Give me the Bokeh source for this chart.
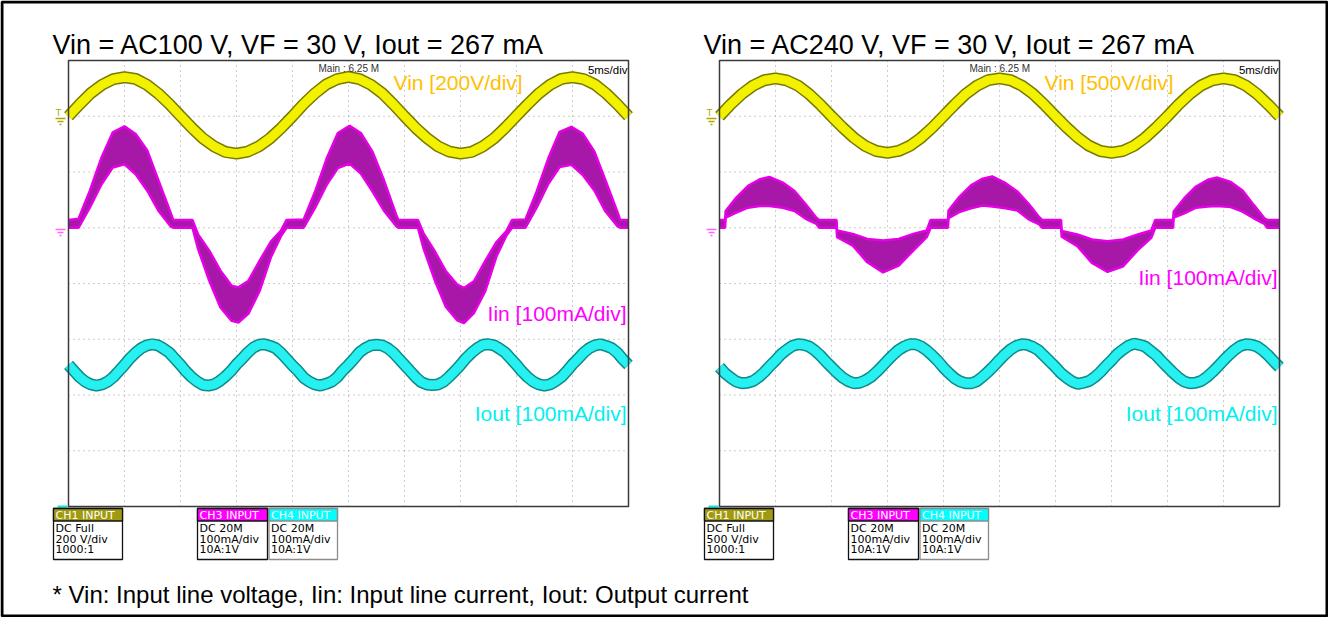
from bokeh.plotting import figure
from bokeh.models import Range1d
from bokeh.embed import file_html
from bokeh.resources import INLINE
from bokeh.core.properties import value

# ---------------- data ----------------
PANEL_TITLES = ["Vin = AC100 V, VF = 30 V, Iout = 267 mA",
                "Vin = AC240 V, VF = 30 V, Iout = 267 mA"]
FOOTNOTE = "* Vin: Input line voltage, Iin: Input line current, Iout: Output current"
VIN_LABELS = ["Vin [200V/div]", "Vin [500V/div]"]
IIN_LABEL = "Iin [100mA/div]"
IOUT_LABEL = "Iout [100mA/div]"
VIN_V_PER_DIV = [200, 500]
I_MA_PER_DIV = 100
TIME_PER_DIV_MS = 5

# Vin samples every 1 ms (volts)
VIN_T = list(range(51))
VIN_100 = [0, 43, 83, 113, 133, 140, 134, 113, 82, 44,
           1, -41, -79, -108, -128, -134, -127, -108, -79, -42,
           0, 44, 82, 114, 133, 141, 133, 113, 83, 43,
           0, -42, -78, -108, -127, -134, -128, -108, -79, -41,
           1, 43, 82, 113, 134, 140, 133, 114, 82, 43,
           0]
VIN_240 = [0, 106, 200, 275, 323, 340, 322, 275, 199, 105,
           0, -101, -193, -266, -312, -328, -311, -265, -193, -102,
           1, 105, 201, 275, 324, 340, 323, 274, 200, 105,
           0, -101, -192, -265, -312, -327, -312, -266, -193, -101,
           0, 106, 200, 276, 323, 340, 323, 275, 200, 104,
           0]

# Iout samples every 0.5 ms (mA)
IOUT_T = [i * 0.5 for i in range(101)]
IOUT_100 = [254, 243, 232, 224, 219, 217, 219, 224, 232, 243, 254, 266, 276, 284, 289, 291, 289, 283, 276, 265,
            254, 242, 232, 224, 218, 217, 219, 225, 233, 243, 255, 265, 276, 285, 290, 291, 288, 284, 275, 264,
            253, 243, 231, 224, 219, 217, 220, 224, 232, 244, 254, 265, 277, 284, 289, 290, 289, 284, 276, 265,
            254, 243, 232, 223, 219, 218, 219, 224, 233, 243, 254, 266, 276, 284, 290, 291, 289, 283, 276, 265,
            254, 242, 232, 224, 219, 217, 219, 225, 232, 243, 255, 265, 276, 284, 289, 291, 288, 284, 276, 264,
            254]
IOUT_240 = [250, 239, 231, 224, 221, 222, 225, 232, 241, 252, 262, 273, 281, 288, 291, 290, 287, 280, 271, 260,
            250, 240, 231, 225, 221, 222, 226, 232, 241, 251, 262, 272, 281, 287, 291, 291, 287, 280, 271, 261,
            249, 239, 230, 224, 221, 221, 225, 233, 242, 252, 263, 273, 282, 288, 291, 290, 286, 280, 270, 260,
            250, 239, 231, 224, 220, 222, 225, 232, 241, 252, 262, 273, 281, 288, 292, 290, 287, 279, 271, 260,
            250, 240, 231, 224, 221, 222, 225, 232, 241, 251, 262, 272, 281, 288, 291, 290, 287, 280, 271, 260,
            250]

# Iin envelope (upper / lower edge of the switching band), mA, at read-off times (ms)
IIN_T_100 = [0, 0.9, 1.9, 2.95, 3.95, 5.0, 6.0, 7.05, 8.05, 9.15, 9.35,
             11.07, 11.57, 12.57, 13.57, 14.57, 15.17, 16.07, 17.07, 18.07, 18.97, 19.47,
             21.0, 22.0, 23.05, 24.05, 25.1, 26.1, 27.15, 28.15, 29.25, 29.45,
             31.2, 31.7, 32.7, 33.7, 34.7, 35.3, 36.2, 37.2, 38.2, 39.1, 39.6,
             40.8, 41.8, 42.85, 43.85, 44.9, 45.9, 46.95, 47.95, 49.05, 49.25, 50]
IIN_UP_100 = [14, 16, 66, 126, 171, 182, 168, 138, 84, 25, 14,
              14, -12, -41, -77, -104, -107, -95, -59, -25, -5, 14,
              15, 64, 124, 170, 183, 170, 136, 86, 24, 14,
              14, -10, -42, -78, -102, -108, -96, -60, -26, -6, 14,
              15, 65, 125, 172, 181, 169, 137, 85, 26, 14, 14]
IIN_LO_100 = [0, 0, 36, 78, 108, 114, 96, 66, 30, 2, 0,
              0, -38, -95, -143, -167, -170, -154, -113, -53, -15, 0,
              0, 35, 77, 107, 115, 97, 65, 31, 3, 0,
              0, -37, -94, -142, -166, -171, -153, -114, -52, -14, 0,
              0, 36, 79, 109, 113, 95, 67, 29, 2, 0, 0]

IIN_T_240 = [0, 0.5, 0.55, 1.5, 2.55, 3.6, 4.45, 5.65, 6.7, 7.7, 8.65, 8.9,
             10.45, 10.5, 11.9, 13.2, 14.6, 16.0, 17.3, 18.5, 18.85,
             20.4, 20.45, 21.4, 22.45, 23.5, 24.35, 25.55, 26.6, 27.6, 28.55, 28.8,
             30.5, 30.55, 31.95, 33.25, 34.65, 36.05, 37.35, 38.55, 38.9,
             40.5, 40.55, 41.5, 42.55, 43.6, 44.45, 45.65, 46.7, 47.7, 48.65, 48.9, 50]
IIN_UP_240 = [14, 14, 30, 54, 75, 87, 91, 81, 66, 42, 18, 14,
              14, -5, -11, -20, -23, -20, -11, -5, 14,
              14, 31, 55, 76, 88, 92, 80, 65, 43, 19, 14,
              14, -6, -12, -21, -24, -21, -12, -5, 14,
              14, 29, 53, 74, 86, 90, 82, 67, 41, 17, 14, 14]
IIN_LO_240 = [0, 0, 18, 27, 36, 39, 39, 36, 30, 16, 7, 0,
              0, -17, -32, -62, -80, -68, -41, -17, 0,
              0, 17, 28, 35, 40, 38, 35, 31, 15, 6, 0,
              0, -16, -33, -63, -79, -69, -40, -18, 0,
              0, 18, 26, 36, 38, 39, 37, 29, 17, 7, 0, 0]

CH_NAMES = ["CH1 INPUT", "CH3 INPUT", "CH4 INPUT"]
CH_LINES = [
    [["DC Full", "200 V/div", "1000:1"], ["DC 20M", "100mA/div", "10A:1V"], ["DC 20M", "100mA/div", "10A:1V"]],
    [["DC Full", "500 V/div", "1000:1"], ["DC 20M", "100mA/div", "10A:1V"], ["DC 20M", "100mA/div", "10A:1V"]],
]

# ---------------- layout / style ----------------
W, H = 1328, 617
OFF = 0                      # canvas origin in reference pixels
PANEL_X0 = [68, 719]         # left edge of each scope screen
SCR_TOP, SCR_BOT, SCR_W = 60, 506, 560
N_DIV_X, N_DIV_Y = 10, 8
T_SPAN = N_DIV_X * TIME_PER_DIV_MS

FONT = value("Liberation Sans")
SCOPE_FONT = value("DejaVu Sans")


def time_range(x0):
    px_per_ms = SCR_W / T_SPAN
    start = -(x0 - OFF) / px_per_ms
    return Range1d(start, start + W / px_per_ms)


def level_range(ground_div, per_div):
    px_per_div = (SCR_BOT - SCR_TOP) / N_DIV_Y
    bdiv = -(H - (SCR_BOT - OFF)) / px_per_div
    tdiv = bdiv + H / px_per_div
    return Range1d((bdiv - ground_div) * per_div, (tdiv - ground_div) * per_div)


p = figure(width=W, height=H, x_range=Range1d(OFF, OFF + W), y_range=Range1d(OFF + H, OFF),
           output_backend="svg", toolbar_location=None, min_border=0,
           x_axis_location=None, y_axis_location=None)
p.grid.visible = False
p.outline_line_color = None
p.background_fill_color = "white"
p.border_fill_color = "white"

p.extra_x_ranges = {"t0": time_range(PANEL_X0[0]), "t1": time_range(PANEL_X0[1])}
p.extra_y_ranges = {
    "div": level_range(0, 1),
    "vin0": level_range(7, VIN_V_PER_DIV[0]),
    "vin1": level_range(7, VIN_V_PER_DIV[1]),
    "iin": level_range(5, I_MA_PER_DIV),
    "iout": level_range(0, I_MA_PER_DIV),
}

panels = [
    dict(vin=VIN_100, iout=IOUT_100, it=IIN_T_100, iu=IIN_UP_100, il=IIN_LO_100),
    dict(vin=VIN_240, iout=IOUT_240, it=IIN_T_240, iu=IIN_UP_240, il=IIN_LO_240),
]

GRID_T = [k * TIME_PER_DIV_MS for k in range(1, N_DIV_X)]
GRID_Y = list(range(1, N_DIV_Y))

for i, d in enumerate(panels):
    xr = "t%d" % i
    x0 = PANEL_X0[i]
    # graticule
    p.segment(x0=GRID_T, y0=[0] * len(GRID_T), x1=GRID_T, y1=[N_DIV_Y] * len(GRID_T),
              x_range_name=xr, y_range_name="div", line_color="#9a9a9a", line_width=1, line_dash="1 4")
    p.segment(x0=[0] * len(GRID_Y), y0=GRID_Y, x1=[T_SPAN] * len(GRID_Y), y1=GRID_Y,
              x_range_name=xr, y_range_name="div", line_color="#9a9a9a", line_width=1, line_dash="1 4")
    # Vin trace
    p.line(VIN_T, d["vin"], x_range_name=xr, y_range_name="vin%d" % i, line_color="#7a7a00", line_width=12)
    p.line(VIN_T, d["vin"], x_range_name=xr, y_range_name="vin%d" % i, line_color="#f2f200", line_width=9)
    # Iin band
    p.varea(x=d["it"], y1=d["il"], y2=d["iu"], x_range_name=xr, y_range_name="iin", fill_color="#a818a8")
    p.line(d["it"], d["iu"], x_range_name=xr, y_range_name="iin", line_color="#e600e6", line_width=2.5)
    p.line(d["it"], d["il"], x_range_name=xr, y_range_name="iin", line_color="#e600e6", line_width=2.5)
    # Iout trace
    p.line(IOUT_T, d["iout"], x_range_name=xr, y_range_name="iout", line_color="#0e8a8a", line_width=12)
    p.line(IOUT_T, d["iout"], x_range_name=xr, y_range_name="iout", line_color="#26f0f0", line_width=9)
    # screen frame
    p.quad(left=[0], right=[T_SPAN], bottom=[0], top=[N_DIV_Y], x_range_name=xr, y_range_name="div",
           fill_color=None, line_color="#3a3a3a", line_width=1.5)

    # ground / trigger markers at the left of the screen
    gx = x0 - 8
    p.segment(x0=[gx - 5, gx - 3, gx - 1], y0=[118, 121, 124], x1=[gx + 5, gx + 3, gx + 1], y1=[118, 121, 124],
              line_color="#b0a800", line_width=1.3)
    p.text(x=[gx - 2], y=[112], text=["T"], text_font=SCOPE_FONT, text_font_size=value("9px"),
           text_color="#b0a800", text_align="center", text_baseline="middle")
    p.segment(x0=[gx - 5, gx - 3, gx - 1], y0=[229, 232, 235], x1=[gx + 5, gx + 3, gx + 1], y1=[229, 232, 235],
              line_color="#ff66ff", line_width=1.3)
    p.quad(left=[x0 - 11], right=[x0 - 1], top=[505], bottom=[507], fill_color="#00e8f0", line_color=None)

    # channel annotations inside the screen
    p.text(x=[x0 + 325], y=[82], text=[VIN_LABELS[i]], text_font=FONT, text_font_size=value("21px"),
           text_color="#ffc000", text_align="left", text_baseline="alphabetic")
    p.text(x=[x0 + 558], y=[313 if i == 0 else 277], text=[IIN_LABEL], text_font=FONT,
           text_font_size=value("21px"), text_color="#ff00ff", text_align="right", text_baseline="alphabetic")
    p.text(x=[x0 + 558], y=[413], text=[IOUT_LABEL], text_font=FONT, text_font_size=value("21px"),
           text_color="#00f0f0", text_align="right", text_baseline="alphabetic")
    p.text(x=[x0 + 250], y=[68], text=["Main : 6.25 M"], text_font=FONT, text_font_size=value("10px"),
           text_color="#333333", text_align="left", text_baseline="middle")
    p.text(x=[x0 + 559], y=[69], text=["5ms/div"], text_font=FONT, text_font_size=value("11.5px"),
           text_color="#000000", text_align="right", text_baseline="middle")

    # panel title
    p.text(x=[x0 - 16], y=[44], text=[PANEL_TITLES[i]], text_font=FONT, text_font_size=value("27px"),
           text_color="#000000", text_align="left", text_baseline="alphabetic")

    # channel info boxes below the screen
    box_l = [x0 - 15, x0 + 129, x0 + 200.5]
    box_r = [x0 + 54, x0 + 199, x0 + 269]
    head_c = ["#a09a12", "#ff00ff", "#00ffff"]
    edge_c = ["#111111", "#111111", "#8c8c8c"]
    p.quad(left=box_l, right=box_r, top=[508] * 3, bottom=[559] * 3, fill_color="white",
           line_color=edge_c, line_width=1.3)
    p.quad(left=box_l, right=box_r, top=[508] * 3, bottom=[520.5] * 3, fill_color=head_c,
           line_color=edge_c, line_width=1.3)
    p.text(x=[b + 2 for b in box_l], y=[515] * 3, text=CH_NAMES, text_font=SCOPE_FONT,
           text_font_size=value("11px"), text_color="#ffffff", text_align="left", text_baseline="middle")
    for j in range(3):
        p.text(x=[box_l[j] + 2] * 3, y=[528, 538.5, 549], text=CH_LINES[i][j], text_font=SCOPE_FONT,
               text_font_size=value("11px"), text_color="#000000", text_align="left", text_baseline="middle")

# footnote
p.text(x=[52], y=[594], text=[FOOTNOTE], text_font=FONT, text_font_size=value("24px"),
       text_color="#000000", text_align="left", text_baseline="alphabetic")

# outer frame of the whole figure
p.quad(left=[OFF + 1.5], right=[OFF + W - 1.5], top=[OFF + 1.5], bottom=[OFF + H - 1.5],
       fill_color=None, line_color="#000000", line_width=3)

open("out.html", "w").write(file_html(p, INLINE))
